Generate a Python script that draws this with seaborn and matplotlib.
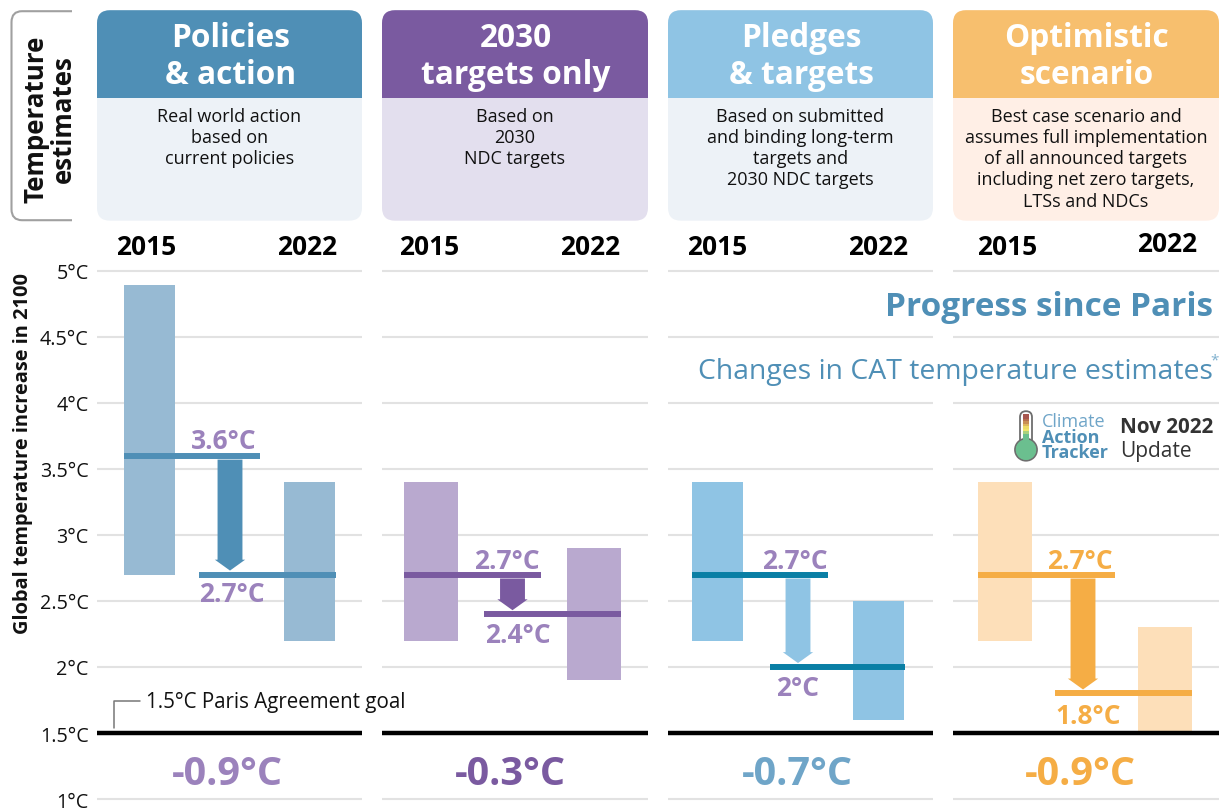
import numpy as np
import pandas as pd
import matplotlib
matplotlib.use("Agg")
import matplotlib.pyplot as plt
from matplotlib.patches import FancyBboxPatch, Rectangle, PathPatch, FancyArrowPatch, Circle
from matplotlib.path import Path
import seaborn as sns

# ---- data ----
panel_titles = ["Policies\n& action", "2030\ntargets only", "Pledges\n& targets", "Optimistic\nscenario"]
panel_notes = ["Real world action\nbased on\ncurrent policies",
               "Based on\n2030\nNDC targets",
               "Based on submitted\nand binding long-term\ntargets and\n2030 NDC targets",
               "Best case scenario and\nassumes full implementation\nof all announced targets\nincluding net zero targets,\nLTSs and NDCs"]
years = [2015, 2022]
low_2015 = [2.7, 2.2, 2.2, 2.2]
high_2015 = [4.89, 3.4, 3.4, 3.4]
low_2022 = [2.2, 1.9, 1.6, 1.5]
high_2022 = [3.4, 2.9, 2.5, 2.3]
median_2015 = [3.6, 2.7, 2.7, 2.7]
median_2022 = [2.7, 2.4, 2.0, 1.8]
label_2015 = ["3.6°C", "2.7°C", "2.7°C", "2.7°C"]
label_2022 = ["2.7°C", "2.4°C", "2°C", "1.8°C"]
changes = ["-0.9°C", "-0.3°C", "-0.7°C", "-0.9°C"]
ytick_values = [1, 1.5, 2, 2.5, 3, 3.5, 4, 4.5, 5]
ytick_labels = ["1°C", "1.5°C", "2°C", "2.5°C", "3°C", "3.5°C", "4°C", "4.5°C", "5°C"]

# ---- styling ----
head_col = ["#4F8FB6", "#7A5AA0", "#8FC4E4", "#F7BF6E"]
body_col = ["#EDF2F7", "#E3DFEE", "#EDF2F7", "#FFEFE6"]
bar_col = ["#97BAD3", "#B9A9CF", "#8FC4E4", "#FDDFB9"]
line_col = ["#4F8FB6", "#7A5AA0", "#0A7FA5", "#F5AD45"]
arrow_col = ["#4F8FB6", "#7A5AA0", "#8FC4E4", "#F5AD45"]
value_col = ["#9B82BC", "#9B82BC", "#9B82BC", "#F5AD45"]
delta_col = ["#9B82BC", "#7A5AA0", "#6FA5C8", "#F5AD45"]
panel_x = [(97, 362), (382, 648), (668, 933), (953, 1219)]
bar_c = [(149.5, 309.5), (431, 594), (717.5, 878.5), (1005, 1165)]
bar_w = [51, 54, 51, 54]
line1_x = [(124, 260), (404, 541), (692, 828), (978, 1115)]
line2_x = [(199, 336), (484, 621), (770, 905), (1055, 1192)]
arrow_x = [230, 512.5, 798, 1083]
lab1_x = [224, 507, 795, 1080]
lab2_x = [232, 518, 798, 1088]
lab1_off = [15.5, 14, 14, 14]
lab2_off = [-19, -20, -21, -22]
delta_x = [227, 510, 797.5, 1080]
year_x = [(146, 307), (429, 590), (717, 878), (1007, 1167)]
year_y = [(246, 246), (246, 246), (246, 246), (246, 243)]

W, H = 1220, 812
SHIFT = 1.2
AX_SHIFT = 1.8
FONT = ["Open Sans", "DejaVu Sans"]
sns.set_theme(style="white")
plt.rcParams["font.family"] = FONT
fig = plt.figure(figsize=(W / 100, H / 100), dpi=100, facecolor="white")

# pixel-space layer for the decorations
bg = fig.add_axes([0, 0, 1, 1], zorder=0)
bg.set_xlim(0, W); bg.set_ylim(H - SHIFT, -SHIFT); bg.axis("off")

top_px, bot_px = 262.0, 806.0
y_of = lambda p: 1 + (798.3 - p) / 132.1

for i in range(4):
    x0, x1 = panel_x[i]
    bg.add_patch(FancyBboxPatch((x0, 10), x1 - x0, 210.5, boxstyle="round,pad=0,rounding_size=13",
                                fc=body_col[i], ec="none"))
    bg.add_patch(FancyBboxPatch((x0, 10), x1 - x0, 60, boxstyle="round,pad=0,rounding_size=13",
                                fc=head_col[i], ec="none"))
    bg.add_patch(Rectangle((x0, 40), x1 - x0, 58, fc=head_col[i], ec="none"))
    bg.text((x0 + x1) / 2 + 1, 56, panel_titles[i], color="white", fontsize=22.8, fontweight="bold",
            ha="center", va="center", linespacing=1.14)
    bg.text((x0 + x1) / 2, 107, panel_notes[i], color="#111111", fontsize=13,
            ha="center", va="top", linespacing=1.22)

    ax = fig.add_axes([x0 / W, 1 - (bot_px + AX_SHIFT) / H, (x1 - x0) / W, (bot_px - top_px) / H], zorder=2)
    ax.patch.set_alpha(0)
    c0, c1 = bar_c[i]
    to_year = lambda p, c0=c0, c1=c1: years[0] + (p - c0) / (c1 - c0) * (years[1] - years[0])
    df = pd.DataFrame({"year": years,
                       "height": [high_2015[i] - low_2015[i], high_2022[i] - low_2022[i]],
                       "low": [low_2015[i], low_2022[i]]})
    sns.barplot(data=df, x="year", y="height", bottom=df["low"].values, native_scale=True, ax=ax,
                width=bar_w[i] / (c1 - c0), color=bar_col[i], saturation=1, errorbar=None,
                linewidth=0, zorder=2)
    ax.set_xlim(to_year(x0), to_year(x1))
    ax.set_ylim(y_of(bot_px), y_of(top_px))
    ax.set_xlabel(""); ax.set_ylabel("")
    ax.set_xticks([])
    ax.set_yticks(ytick_values)
    ax.set_axisbelow(True)
    ax.grid(axis="y", color="#E2E2E2", lw=1.5)
    for s in ax.spines.values():
        s.set_visible(False)
    if i == 0:
        ax.set_yticklabels(ytick_labels, fontsize=14.2, color="#111111")
        ax.tick_params(axis="y", length=0, pad=6)
    else:
        ax.set_yticklabels([])
        ax.tick_params(axis="y", length=0)
    ax.axhline(1.5, color="black", lw=3.2, zorder=3, solid_capstyle="butt")
    ax.hlines(median_2015[i], to_year(line1_x[i][0]), to_year(line1_x[i][1]), color=line_col[i], lw=4.3, zorder=4)
    ax.hlines(median_2022[i], to_year(line2_x[i][0]), to_year(line2_x[i][1]), color=line_col[i], lw=4.3, zorder=4)
    ax_x = to_year(arrow_x[i])
    ax.add_patch(FancyArrowPatch((ax_x, median_2015[i] - 0.03), (ax_x, median_2022[i] + 0.03),
                                 arrowstyle="simple,head_length=0.28,head_width=0.78,tail_width=0.64",
                                 mutation_scale=28, fc=arrow_col[i], ec="none", shrinkA=0, shrinkB=0, zorder=3))
    ax.annotate(label_2015[i], (to_year(lab1_x[i]), median_2015[i]), xytext=(0, lab1_off[i] * 0.72),
                textcoords="offset points", ha="center", va="center", fontsize=19, fontweight="bold",
                color=value_col[i], zorder=5)
    ax.annotate(label_2022[i], (to_year(lab2_x[i]), median_2022[i]), xytext=(0, lab2_off[i] * 0.72),
                textcoords="offset points", ha="center", va="center", fontsize=19, fontweight="bold",
                color=value_col[i], zorder=5)
    for y_lab, xp, yp in zip(years, year_x[i], year_y[i]):
        bg.text(xp, yp, str(y_lab), fontsize=19, fontweight="bold", color="black", ha="center", va="center")
    bg.text(delta_x[i], 773, changes[i], fontsize=28.5, fontweight="bold", color=delta_col[i], ha="center", va="center")

# left tab
v = [(72, 11), (22, 11), (11.5, 11), (11.5, 22), (11.5, 209), (11.5, 220), (22, 220), (72, 220)]
codes = [Path.MOVETO, Path.LINETO, Path.CURVE3, Path.CURVE3, Path.LINETO, Path.CURVE3, Path.CURVE3, Path.LINETO]
bg.add_patch(PathPatch(Path(v, codes), fc="none", ec="#A0A0A0", lw=1.5))
bg.text(50, 118, "Temperature\nestimates", rotation=90, fontsize=18.6, fontweight="bold", color="#111111",
        ha="center", va="center", linespacing=1.02)
fig.text(23 / W, 1 - 453 / H, "Global temperature increase in 2100", rotation=90, fontsize=14.4, fontweight="bold",
         color="#111111", ha="center", va="center", zorder=5)

# Paris goal note (top layer)
top = fig.add_axes([0, 0, 1, 1], zorder=5)
top.set_xlim(0, W); top.set_ylim(H - SHIFT, -SHIFT); top.axis("off"); top.patch.set_alpha(0)
top.plot([113.5, 113.5, 140], [728, 701, 701], color="#777777", lw=1.1)
top.text(146, 701.5, "1.5°C Paris Agreement goal", fontsize=14.8, color="#111111", ha="left", va="center")

# titles
top.text(1213, 306, "Progress since Paris", fontsize=24, fontweight="bold", color="#4F8FB6", ha="right", va="center")
top.text(1213, 371, "Changes in CAT temperature estimates", fontsize=20.4, color="#4F8FB6", ha="right", va="center")
top.text(1219, 360, "*", fontsize=11, color="#7FB0CE", ha="right", va="center")

# logo
cx = 1026
grey = "#6E6E6E"
top.add_patch(FancyBboxPatch((cx - 6, 411), 12, 40, boxstyle="round,pad=0,rounding_size=6", fc="white", ec=grey, lw=1.3, zorder=3))
top.add_patch(Circle((cx, 449.5), 11, fc="#6BBF8F", ec=grey, lw=1.3, zorder=3))
seg_col = ["#A8574F", "#A8574F", "#B5704F", "#C98F55", "#DDB75E", "#EDDC66", "#EFE56C", "#A9D27E"]
for k, col in enumerate(seg_col):
    top.add_patch(Rectangle((cx - 3.4, 413.5 + k * 2.5), 6.8, 2.6, fc=col, ec="none", zorder=4))
top.add_patch(Rectangle((cx - 3.4, 433.5), 6.8, 10, fc="#6BBF8F", ec="none", zorder=4))
top.add_patch(Circle((cx, 449.5), 10.2, fc="#6BBF8F", ec="none", zorder=4))
top.text(1042, 421, "Climate", fontsize=13, color="#6FA5C8", ha="left", va="center")
top.text(1042, 444.5, "Action\nTracker", fontsize=13, fontweight="bold", color="#4F8FB6", ha="left", va="center",
         linespacing=0.82)
top.text(1120, 426, "Nov 2022", fontsize=14.9, fontweight="bold", color="#333333", ha="left", va="center")
top.text(1120, 450, "Update", fontsize=15, color="#333333", ha="left", va="center")

fig.savefig("out.png", dpi=100, facecolor="white")
